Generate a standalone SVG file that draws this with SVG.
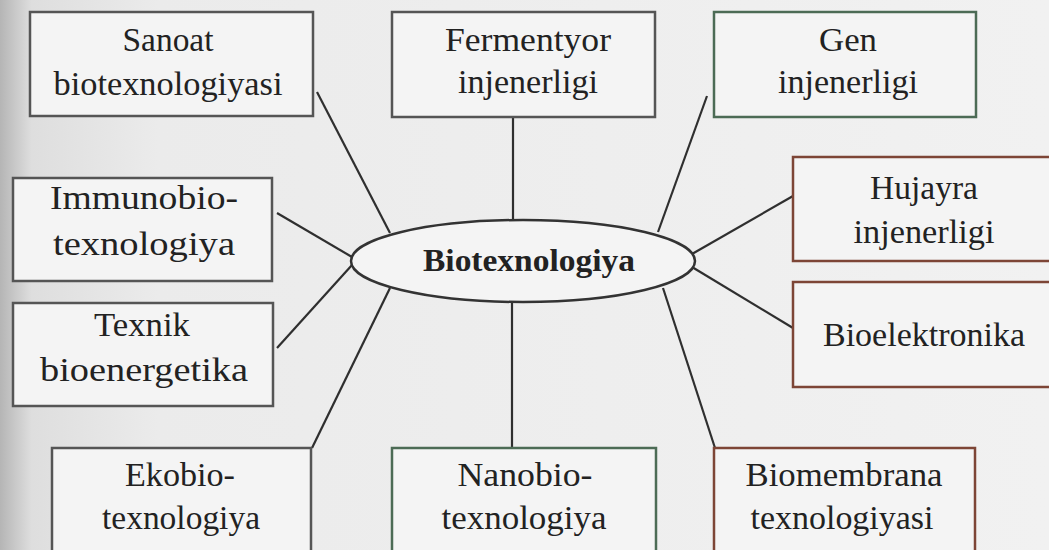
<svg xmlns="http://www.w3.org/2000/svg" width="1049" height="550" viewBox="0 0 1049 550">
<defs>
<linearGradient id="bg" x1="0" y1="0" x2="1" y2="0">
<stop offset="0" stop-color="#b5b5b5"/>
<stop offset="0.03" stop-color="#dedede"/>
<stop offset="0.15" stop-color="#ebebeb"/>
<stop offset="1" stop-color="#f1f1f1"/>
</linearGradient>
<style>
.box{fill:#f4f4f4;stroke:#555;stroke-width:2.5}
.g{stroke:#4c6b55}
.r{stroke:#7d4536}
.t{font-family:"Liberation Serif","Times New Roman",serif;font-size:34px;fill:#222;text-anchor:middle}
.b{font-weight:bold;font-size:32px}
.c{stroke:#2f2f2f;stroke-width:2.2;fill:none}
</style>
</defs>
<rect x="0" y="0" width="1049" height="550" fill="url(#bg)"/>
<g id="connectors">
<line class="c" x1="317" y1="92" x2="390" y2="233"/>
<line class="c" x1="513" y1="117" x2="513" y2="220"/>
<line class="c" x1="707" y1="96" x2="658" y2="232"/>
<line class="c" x1="277" y1="213" x2="352" y2="257"/>
<line class="c" x1="277" y1="348" x2="352" y2="265"/>
<line class="c" x1="390" y1="288" x2="312" y2="448"/>
<line class="c" x1="512" y1="303" x2="512" y2="448"/>
<line class="c" x1="663" y1="288" x2="715" y2="448"/>
<line class="c" x1="692" y1="254" x2="793" y2="196"/>
<line class="c" x1="692" y1="267" x2="793" y2="328"/>
</g>
<g id="center">
<ellipse cx="523" cy="261" rx="172" ry="41" fill="#f4f4f4" stroke="#333" stroke-width="2.5"/>
<text class="t b" x="529" y="271" textLength="212" lengthAdjust="spacingAndGlyphs">Biotexnologiya</text>
</g>
<g id="sanoat">
<rect class="box" x="30" y="12" width="283" height="104"/>
<text class="t" x="168" y="51" textLength="91" lengthAdjust="spacingAndGlyphs">Sanoat</text>
<text class="t" x="168" y="95" textLength="229" lengthAdjust="spacingAndGlyphs">biotexnologiyasi</text>
</g>
<g id="fermentyor">
<rect class="box" x="392" y="12" width="263" height="105"/>
<text class="t" x="528" y="51" textLength="166" lengthAdjust="spacingAndGlyphs">Fermentyor</text>
<text class="t" x="528" y="93" textLength="140" lengthAdjust="spacingAndGlyphs">injenerligi</text>
</g>
<g id="gen">
<rect class="box g" x="714" y="12" width="262" height="105"/>
<text class="t" x="848" y="51" textLength="58" lengthAdjust="spacingAndGlyphs">Gen</text>
<text class="t" x="848" y="93" textLength="140" lengthAdjust="spacingAndGlyphs">injenerligi</text>
</g>
<g id="hujayra">
<rect class="box r" x="793" y="157" width="262" height="104"/>
<text class="t" x="924" y="199" textLength="108" lengthAdjust="spacingAndGlyphs">Hujayra</text>
<text class="t" x="924" y="243" textLength="141" lengthAdjust="spacingAndGlyphs">injenerligi</text>
</g>
<g id="bioelektronika">
<rect class="box r" x="793" y="282" width="262" height="105"/>
<text class="t" x="924" y="346" textLength="202" lengthAdjust="spacingAndGlyphs">Bioelektronika</text>
</g>
<g id="immunobio">
<rect class="box" x="13" y="178" width="259" height="103"/>
<text class="t" x="144" y="209" textLength="188" lengthAdjust="spacingAndGlyphs">Immunobio-</text>
<text class="t" x="144" y="255" textLength="182" lengthAdjust="spacingAndGlyphs">texnologiya</text>
</g>
<g id="texnik">
<rect class="box" x="13" y="303" width="260" height="103"/>
<text class="t" x="142" y="336" textLength="96" lengthAdjust="spacingAndGlyphs">Texnik</text>
<text class="t" x="144" y="381" textLength="208" lengthAdjust="spacingAndGlyphs">bioenergetika</text>
</g>
<g id="ekobio">
<rect class="box" x="52" y="448" width="259" height="110"/>
<text class="t" x="180" y="486" textLength="110" lengthAdjust="spacingAndGlyphs">Ekobio-</text>
<text class="t" x="181" y="529" textLength="158" lengthAdjust="spacingAndGlyphs">texnologiya</text>
</g>
<g id="nanobio">
<rect class="box g" x="392" y="448" width="264" height="110"/>
<text class="t" x="525" y="486" textLength="135" lengthAdjust="spacingAndGlyphs">Nanobio-</text>
<text class="t" x="524" y="529" textLength="165" lengthAdjust="spacingAndGlyphs">texnologiya</text>
</g>
<g id="biomembrana">
<rect class="box r" x="714" y="448" width="261" height="110"/>
<text class="t" x="844" y="486" textLength="197" lengthAdjust="spacingAndGlyphs">Biomembrana</text>
<text class="t" x="842" y="529" textLength="183" lengthAdjust="spacingAndGlyphs">texnologiyasi</text>
</g>
</svg>
